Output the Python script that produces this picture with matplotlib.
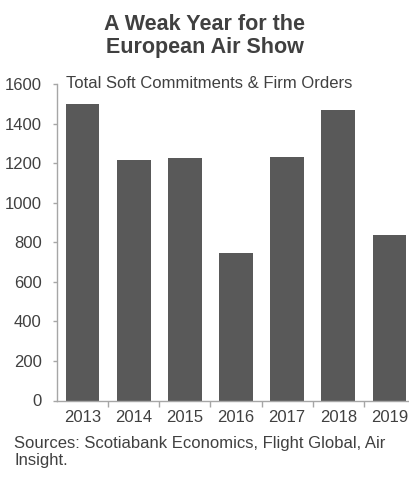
import matplotlib
matplotlib.use("Agg")
import matplotlib.pyplot as plt

years = ["2013", "2014", "2015", "2016", "2017", "2018", "2019"]
orders = [1500, 1215, 1227, 745, 1230, 1468, 835]
y_ticks = [0, 200, 400, 600, 800, 1000, 1200, 1400, 1600]

plt.rcParams["font.family"] = ["Liberation Sans", "DejaVu Sans"]
text_color = "#404040"
bar_color = "#595959"
axis_color = "#a6a6a6"

fig = plt.figure(figsize=(4.1, 4.8), dpi=100)
ax = fig.add_axes([57 / 410, 1 - 400.5 / 480, 358 / 410, 316.5 / 480])

x = range(len(years))
ax.bar(x, orders, width=0.657, color=bar_color, zorder=2)

ax.set_xlim(-0.5, len(years) - 0.5)
ax.set_ylim(0, 1600)
ax.set_yticks(y_ticks)
ax.set_yticklabels([str(v) for v in y_ticks])
ax.set_xticks(list(x))
ax.set_xticklabels(years)

# category boundary ticks on the x axis
ax.set_xticks([i + 0.5 for i in range(len(years) - 1)], minor=True)
ax.tick_params(axis="x", which="major", length=0, pad=7, labelsize=12, labelcolor=text_color)
ax.tick_params(axis="x", which="minor", length=4, width=1, color=axis_color)
ax.tick_params(axis="y", length=3, width=1, color=axis_color, pad=8, labelsize=12, labelcolor=text_color)

for side in ("top", "right"):
    ax.spines[side].set_visible(False)
for side in ("left", "bottom"):
    ax.spines[side].set_color(axis_color)
    ax.spines[side].set_linewidth(1)

ax.text(66 / 410, 1 - 84 / 480, "Total Soft Commitments & Firm Orders",
        transform=fig.transFigure, ha="left", va="center",
        fontsize=12, color=text_color)

fig.text(0.5, 1 - 36 / 480, "A Weak Year for the\nEuropean Air Show",
         ha="center", va="center", fontsize=15.5, fontweight="bold",
         color=text_color, linespacing=1.1)

fig.text(14 / 410, 1 - 452 / 480, "Sources: Scotiabank Economics, Flight Global, Air\nInsight.",
         ha="left", va="center", fontsize=12, color=text_color, linespacing=1.15)

fig.savefig("out.png", dpi=100)
